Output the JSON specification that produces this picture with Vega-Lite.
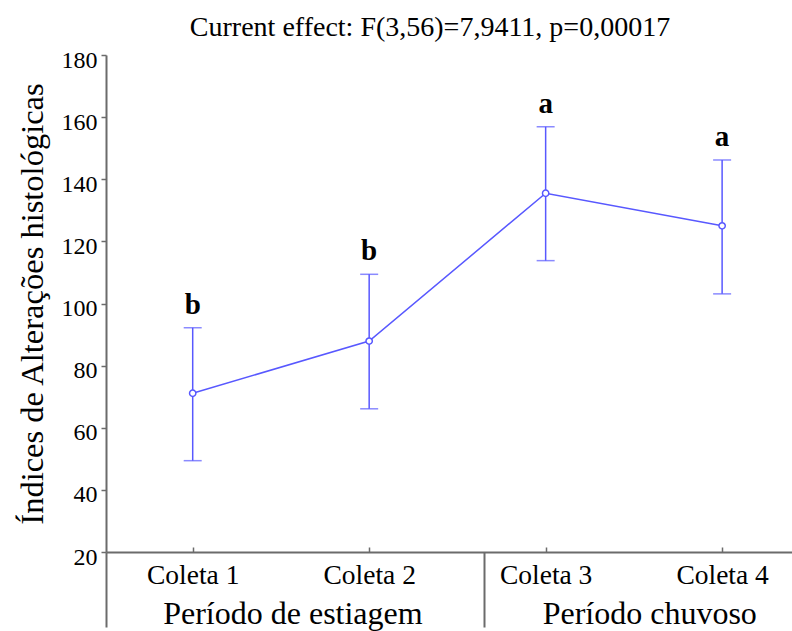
{
  "$schema": "https://vega.github.io/schema/vega-lite/v6.json",
  "width": 686,
  "height": 497,
  "autosize": {"type": "none"},
  "padding": {"left": 106, "top": 55, "right": 0, "bottom": 79},
  "background": "white",
  "title": {
    "text": "Current effect: F(3,56)=7,9411, p=0,00017",
    "font": "Liberation Serif",
    "fontSize": 28,
    "fontWeight": "normal",
    "color": "black",
    "anchor": "middle",
    "frame": "group",
    "dx": -19,
    "baseline": "alphabetic",
    "offset": -16
  },
  "config": {
    "view": {"stroke": null},
    "title": {"font": "Liberation Serif", "fontSize": 28, "fontWeight": "normal"},
    "axis": {"grid": false, "labelFont": "Liberation Serif", "titleFont": "Liberation Serif", "labelColor": "black", "titleColor": "black", "domainColor": "#6b6b6b", "tickColor": "#6b6b6b", "domainWidth": 2, "tickWidth": 1.5, "labelFlush": false, "labelLimit": 0}
  },
  "data": {
    "values": [
      {"coleta": 1, "mean": 71.1, "lower": 49.4, "upper": 92.2, "sig": "b"},
      {"coleta": 2, "mean": 87.9, "lower": 66.1, "upper": 109.4, "sig": "b"},
      {"coleta": 3, "mean": 135.5, "lower": 113.8, "upper": 156.9, "sig": "a"},
      {"coleta": 4, "mean": 125.0, "lower": 103.1, "upper": 146.2, "sig": "a"}
    ]
  },
  "resolve": {"axis": {"x": "independent", "y": "independent"}},
  "layer": [
    {
      "mark": {"type": "rule", "color": "#5858ff", "strokeWidth": 1.5},
      "encoding": {
        "x": {"field": "coleta", "type": "quantitative",
          "scale": {"domain": [0.5087, 4.396], "nice": false, "zero": false},
          "axis": {"orient": "bottom", "title": null, "values": [1, 2, 3, 4],
            "labelExpr": "'Coleta ' + datum.value", "labelFont": "Liberation Serif",
            "labelFontSize": 27.5, "labelBaseline": "alphabetic", "labelPadding": 36,
            "tickSize": -5, "domain": true}},
        "y": {"field": "lower", "type": "quantitative",
          "scale": {"domain": [20, 180], "nice": false, "zero": false},
          "axis": {"title": "Índices de Alterações histológicas", "values": [20, 40, 60, 80, 100, 120, 140, 160, 180],
            "labelFont": "Liberation Serif", "titleFont": "Liberation Serif",
            "labelFontSize": 24, "tickSize": 5, "labelPadding": 4, "labelOffset": 5,
            "titleFontSize": 32.5, "titleFontWeight": "normal", "titleBaseline": "alphabetic", "titlePadding": 19}},
        "y2": {"field": "upper"}
      }
    },
    {
      "mark": {"type": "tick", "color": "#5858ff", "thickness": 1.5, "size": 18, "orient": "horizontal"},
      "encoding": {
        "x": {"field": "coleta", "type": "quantitative",
          "axis": {"orient": "bottom", "title": null, "values": [0.5087, 2.652], "labels": false, "domain": false,
            "tickSize": 75, "tickWidth": 2}},
        "y": {"field": "upper", "type": "quantitative", "axis": null}
      }
    },
    {
      "mark": {"type": "tick", "color": "#5858ff", "thickness": 1.5, "size": 18, "orient": "horizontal"},
      "encoding": {
        "x": {"field": "coleta", "type": "quantitative",
          "axis": {"orient": "bottom", "title": null, "values": [1.565, 3.587], "ticks": false, "domain": false,
            "labelExpr": "datum.value < 2.5 ? 'Período de estiagem' : 'Período chuvoso'", "labelFont": "Liberation Serif",
            "labelFontSize": 32, "labelBaseline": "alphabetic", "labelPadding": 71}},
        "y": {"field": "lower", "type": "quantitative", "axis": null}
      }
    },
    {
      "mark": {"type": "line", "color": "#5858ff", "strokeWidth": 1.5},
      "encoding": {
        "x": {"field": "coleta", "type": "quantitative", "axis": null},
        "y": {"field": "mean", "type": "quantitative", "axis": null}
      }
    },
    {
      "mark": {"type": "point", "shape": "circle", "filled": true, "fill": "white", "stroke": "#5858ff", "strokeWidth": 1.5, "size": 40, "opacity": 1},
      "encoding": {
        "x": {"field": "coleta", "type": "quantitative", "axis": null},
        "y": {"field": "mean", "type": "quantitative", "axis": null}
      }
    },
    {
      "mark": {"type": "text", "font": "Liberation Serif", "fontSize": 29, "fontWeight": "bold", "color": "black", "baseline": "alphabetic", "dy": -14},
      "encoding": {
        "x": {"field": "coleta", "type": "quantitative", "axis": null},
        "y": {"field": "upper", "type": "quantitative", "axis": null},
        "text": {"field": "sig"}
      }
    }
  ]
}
